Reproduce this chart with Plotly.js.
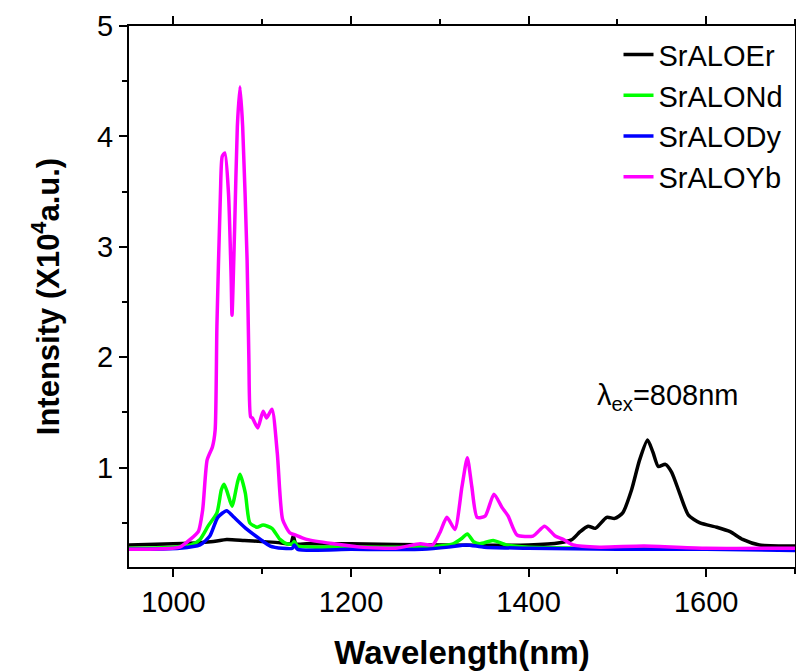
<!DOCTYPE html>
<html>
<head>
<meta charset="utf-8">
<script src="https://cdn.plot.ly/plotly-3.0.1.min.js"></script>
<style>html,body{margin:0;padding:0;background:#fff;}#chart{width:796px;height:671px;}</style>
</head>
<body>
<div id="chart"></div>
<script>
// Wavelength (nm) and intensity (x10^4 a.u.)
var erX = [950, 1000, 1030, 1045, 1060, 1080, 1100, 1120, 1132, 1135, 1138, 1150, 1200, 1300, 1400, 1435, 1449, 1458, 1467, 1475, 1488, 1497, 1506, 1516, 1525, 1534, 1540, 1546, 1554, 1561, 1570, 1580, 1593, 1612, 1627, 1641, 1660, 1700];
var erY = [0.30, 0.31, 0.32, 0.33, 0.35, 0.34, 0.33, 0.32, 0.31, 0.38, 0.31, 0.31, 0.31, 0.30, 0.30, 0.32, 0.35, 0.42, 0.47, 0.45, 0.55, 0.54, 0.59, 0.80, 1.07, 1.25, 1.14, 1.01, 1.03, 0.96, 0.77, 0.57, 0.50, 0.46, 0.42, 0.35, 0.30, 0.29];

var ndX = [950, 1000, 1020, 1030, 1039, 1049, 1054, 1057, 1061, 1066, 1072, 1075, 1081, 1086, 1094, 1101, 1111, 1120, 1128, 1134, 1136, 1140, 1160, 1200, 1260, 1300, 1315, 1325, 1331, 1338, 1345, 1360, 1375, 1400, 1500, 1600, 1700];
var ndY = [0.27, 0.28, 0.30, 0.35, 0.47, 0.59, 0.80, 0.85, 0.77, 0.65, 0.86, 0.94, 0.77, 0.50, 0.46, 0.48, 0.45, 0.35, 0.31, 0.31, 0.33, 0.29, 0.28, 0.28, 0.28, 0.29, 0.31, 0.36, 0.40, 0.33, 0.31, 0.34, 0.30, 0.28, 0.27, 0.26, 0.26];

var dyX = [950, 1007, 1030, 1041, 1050, 1060, 1067, 1083, 1098, 1109, 1123, 1134, 1136, 1140, 1200, 1280, 1310, 1330, 1350, 1400, 1500, 1600, 1700];
var dyY = [0.26, 0.27, 0.30, 0.38, 0.55, 0.61, 0.56, 0.44, 0.35, 0.29, 0.27, 0.27, 0.30, 0.26, 0.26, 0.26, 0.28, 0.30, 0.28, 0.27, 0.26, 0.26, 0.25];

var ybX = [950, 1007, 1019, 1028, 1033, 1038, 1044, 1047, 1049, 1053, 1055, 1058, 1062, 1065, 1066, 1069, 1072, 1075, 1078, 1083, 1085, 1087, 1089, 1095, 1101, 1105, 1111, 1117, 1123, 1131, 1137, 1150, 1210, 1250, 1278, 1292, 1300, 1308, 1317, 1325, 1331, 1336, 1342, 1351, 1361, 1370, 1377, 1387, 1405, 1418, 1430, 1439, 1450, 1480, 1530, 1600, 1700];
var ybY = [0.26, 0.28, 0.35, 0.42, 0.62, 1.07, 1.19, 1.34, 2.28, 3.49, 3.82, 3.85, 3.49, 2.73, 2.38, 3.18, 4.09, 4.45, 4.09, 2.88, 1.98, 1.46, 1.45, 1.36, 1.51, 1.45, 1.53, 1.13, 0.53, 0.41, 0.39, 0.35, 0.28, 0.27, 0.31, 0.30, 0.41, 0.55, 0.44, 0.83, 1.09, 0.83, 0.55, 0.56, 0.76, 0.64, 0.56, 0.39, 0.38, 0.47, 0.38, 0.35, 0.30, 0.28, 0.29, 0.27, 0.27];

var seriesNames = ['SrALOEr', 'SrALONd', 'SrALODy', 'SrALOYb'];
var seriesColors = ['#000000', '#00ff00', '#0000ff', '#ff00ff'];
var xTickVals = [1000, 1200, 1400, 1600];
var yTickVals = [1, 2, 3, 4, 5];

var xs = [erX, ndX, dyX, ybX];
var ys = [erY, ndY, dyY, ybY];
var FONT = 'Liberation Sans, Arial, sans-serif';

var traces = seriesNames.map(function (n, i) {
  return {
    x: xs[i], y: ys[i], name: n, type: 'scatter', mode: 'lines',
    line: {color: seriesColors[i], width: 3.5, shape: 'spline', smoothing: 0.6}
  };
});

var layout = {
  width: 796, height: 671,
  margin: {l: 129, r: 1, t: 26, b: 104},
  paper_bgcolor: '#fff', plot_bgcolor: '#fff',
  font: {family: FONT, color: '#000'},
  showlegend: true,
  legend: {x: 0.735, y: 0.994, xanchor: 'left', yanchor: 'top', bgcolor: 'rgba(0,0,0,0)',
           font: {size: 29, family: FONT, color: '#000'}, tracegroupgap: 0},
  xaxis: {
    range: [950, 1700], showgrid: false, zeroline: false,
    showline: true, linecolor: '#000', linewidth: 2, mirror: 'allticks',
    ticks: 'outside', ticklen: 8, tickwidth: 2, tickcolor: '#000',
    tickvals: xTickVals, ticktext: xTickVals.map(String),
    tickfont: {size: 29, family: FONT},
    minor: {dtick: 100, tick0: 1000, ticks: 'outside', ticklen: 5, tickwidth: 2, tickcolor: '#000'},
    title: {text: '<b>Wavelength(nm)</b>', font: {size: 33, family: FONT}, standoff: 28}
  },
  yaxis: {
    range: [0.1, 5], showgrid: false, zeroline: false,
    showline: true, linecolor: '#000', linewidth: 2, mirror: true,
    ticks: 'outside', ticklen: 8, tickwidth: 2, tickcolor: '#000',
    tickvals: yTickVals, ticktext: yTickVals.map(String),
    tickfont: {size: 29, family: FONT},
    minor: {dtick: 0.5, tick0: 0, ticks: 'outside', ticklen: 5, tickwidth: 2, tickcolor: '#000'},
    title: {text: '<b>Intensity (X10<sup>4</sup>a.u.)</b>', font: {size: 31, family: FONT}, standoff: 28}
  },
  annotations: [{
    x: 1475, y: 1.64, xref: 'x', yref: 'y', xanchor: 'left', yanchor: 'middle',
    text: 'λ<sub>ex</sub>=808nm', showarrow: false, font: {size: 29, family: FONT, color: '#000'}
  }]
};

Plotly.newPlot('chart', traces, layout, {displayModeBar: false, staticPlot: true});
</script>
</body>
</html>
